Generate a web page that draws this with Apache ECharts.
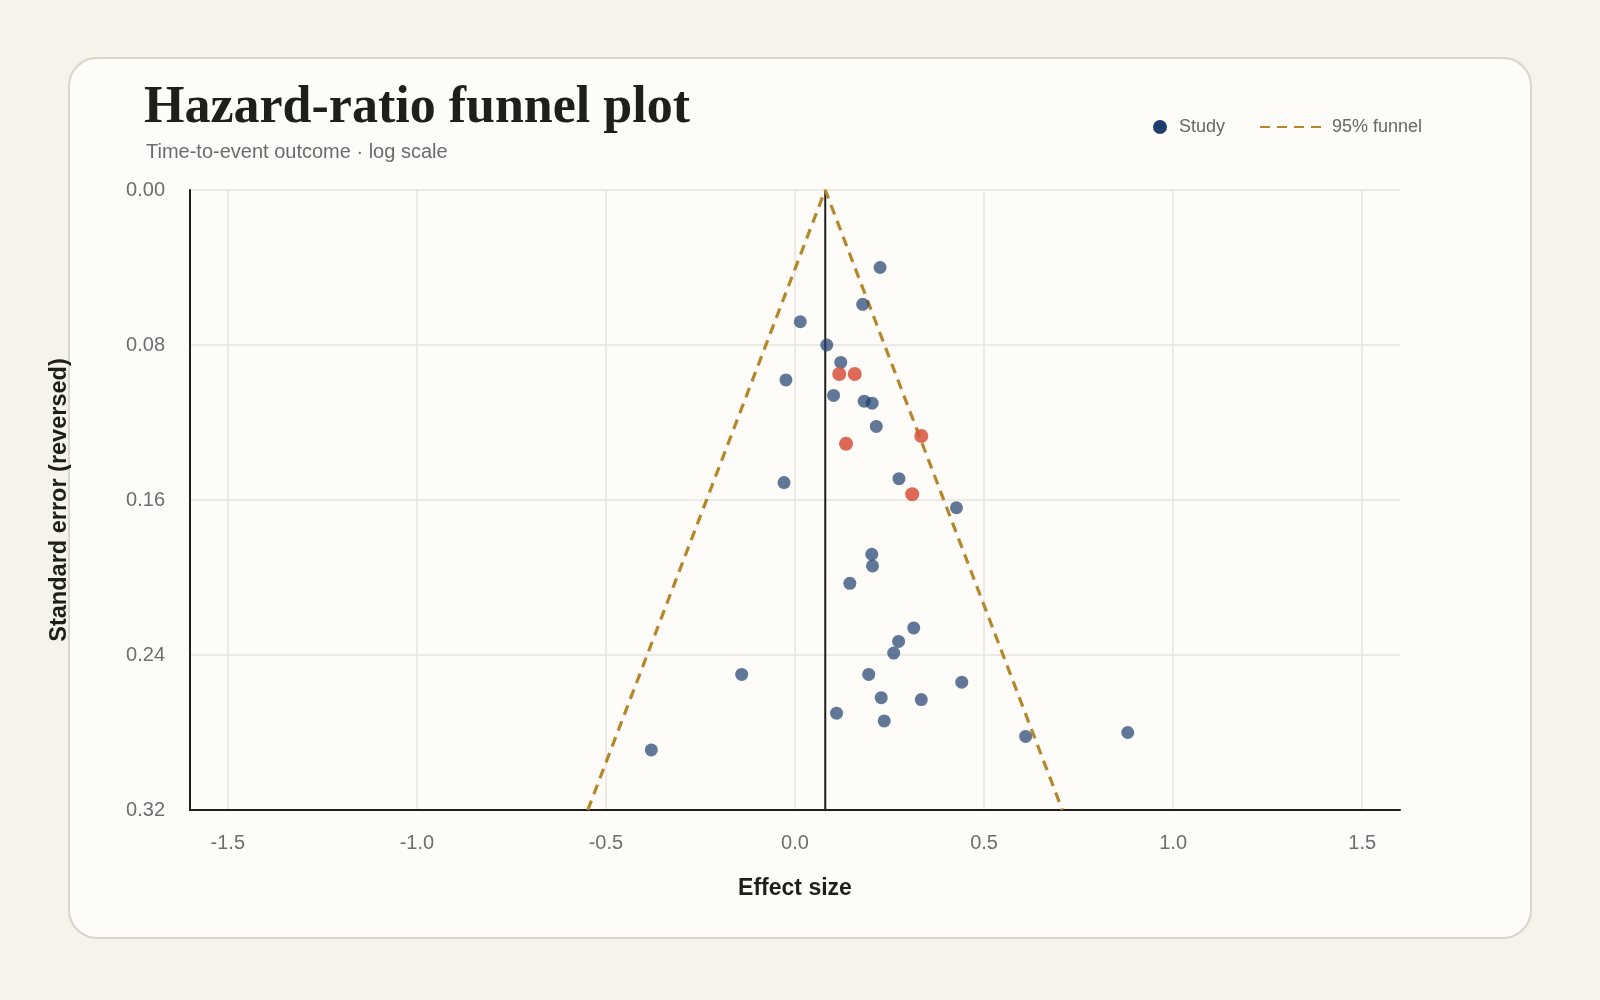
<!DOCTYPE html>
<html>
<head>
<meta charset="utf-8">
<title>Hazard-ratio funnel plot</title>
<script src="https://cdn.jsdelivr.net/npm/echarts@6/dist/echarts.min.js"></script>
<style>
    html, body { margin: 0; padding: 0; background: #f6f3ea; }
    #chart { width: 1600px; height: 1000px; }
</style>
</head>
<body>
<div id="chart"></div>
<script>
// studies: effect size (log HR) and standard error
var studyEffect = [0.225, 0.179, 0.014, 0.084, 0.121, -0.024, 0.117, 0.158, 0.102, 0.183,
    0.204, 0.215, 0.334, 0.135, -0.029, 0.275, 0.310, 0.427, 0.203, 0.205,
    0.145, 0.314, 0.274, 0.261, -0.141, 0.195, 0.441, 0.228, 0.334, 0.110,
    0.236, 0.610, 0.880, -0.380];
var studySE = [0.040, 0.059, 0.068, 0.080, 0.089, 0.098, 0.095, 0.095, 0.106, 0.109,
    0.110, 0.122, 0.127, 0.131, 0.151, 0.149, 0.157, 0.164, 0.188, 0.194,
    0.203, 0.226, 0.233, 0.239, 0.250, 0.250, 0.254, 0.262, 0.263, 0.270,
    0.274, 0.282, 0.280, 0.289];
// highlighted (red) studies
var studyFlag = [0, 0, 0, 0, 0, 0, 1, 1, 0, 0,
    0, 0, 1, 1, 0, 0, 1, 0, 0, 0,
    0, 0, 0, 0, 0, 0, 0, 0, 0, 0,
    0, 0, 0, 0];

// funnel outline (left bottom -> apex -> right bottom) and pooled line
var funnelEffect = [-0.548, 0.08, 0.707];
var funnelSE = [0.32, 0.0, 0.32];
var pooledEffect = [0.08, 0.08];
var pooledSE = [0.0, 0.32];

var sans = '"Liberation Sans", Arial, Helvetica, sans-serif';

var studyData = studyEffect.map(function (x, i) {
    var item = {value: [x, studySE[i]]};
    if (studyFlag[i]) {
        item.itemStyle = {color: '#d8553f', opacity: 0.88};
        item.symbolSize = 14;
    }
    return item;
});

var chart = echarts.init(document.getElementById('chart'));
chart.setOption({
    backgroundColor: '#f6f3ea',
    animation: false,
    graphic: [{
        type: 'rect',
        z: -10,
        shape: {x: 69, y: 58, width: 1462, height: 880, r: 28},
        style: {fill: '#fdfcf9', stroke: '#d9d5c9', lineWidth: 2}
    }],
    title: [{
        text: 'Hazard-ratio funnel plot',
        left: 144, top: 83, padding: 0,
        textStyle: {fontFamily: '"Liberation Serif", "Times New Roman", serif', fontWeight: 'bold', fontSize: 52, color: '#1f1f1a'}
    }, {
        text: 'Time-to-event outcome · log scale',
        left: 146, top: 142, padding: 0,
        textStyle: {fontFamily: sans, fontWeight: 'normal', fontSize: 20, color: '#6b6b6b'}
    }],
    legend: [{
        data: ['Study'],
        left: 1153, top: 118, padding: 0,
        itemWidth: 28, itemHeight: 14,
        itemStyle: {opacity: 1, color: '#1d3f6e'},
        textStyle: {fontFamily: sans, fontSize: 18, color: '#666'}
    }, {
        data: ['95% funnel'],
        left: 1259, top: 118, padding: 0,
        itemWidth: 61, itemHeight: 14,
        textStyle: {fontFamily: sans, fontSize: 18, color: '#666', padding: [0, 0, 0, 6]}
    }],
    grid: {left: 190, right: 200, top: 190, bottom: 190},
    xAxis: {
        type: 'value',
        min: -1.6, max: 1.6,
        name: 'Effect size',
        nameLocation: 'middle',
        nameGap: 67,
        nameTextStyle: {fontFamily: sans, fontWeight: 'bold', fontSize: 23, color: '#1f1f1a'},
        axisLine: {onZero: false, lineStyle: {color: '#1e1e1e', width: 2}},
        axisTick: {show: false},
        axisLabel: {
            showMinLabel: false, showMaxLabel: false,
            margin: 23, fontFamily: sans, fontSize: 20, color: '#6e6e6e',
            formatter: function (v) { return v.toFixed(1); }
        },
        splitLine: {show: true, showMinLine: false, showMaxLine: false, lineStyle: {color: '#e7e4dd', width: 1.5}}
    },
    yAxis: {
        type: 'value',
        inverse: true,
        min: 0, max: 0.32, interval: 0.08,
        name: 'Standard error (reversed)',
        nameLocation: 'middle',
        nameGap: 118,
        nameTextStyle: {fontFamily: sans, fontWeight: 'bold', fontSize: 23.5, color: '#1f1f1a'},
        axisLine: {show: true, onZero: false, lineStyle: {color: '#1e1e1e', width: 2}},
        axisTick: {show: false},
        axisLabel: {
            margin: 25, fontFamily: sans, fontSize: 20, color: '#6e6e6e',
            formatter: function (v) { return v.toFixed(2); }
        },
        splitLine: {show: true, lineStyle: {color: '#e7e4dd', width: 1.5}}
    },
    series: [{
        name: 'Pooled',
        type: 'line',
        data: pooledEffect.map(function (x, i) { return [x, pooledSE[i]]; }),
        symbol: 'none',
        silent: true,
        lineStyle: {color: '#1e1e1e', width: 2},
        z: 3
    }, {
        name: '95% funnel',
        type: 'line',
        data: funnelEffect.map(function (x, i) { return [x, funnelSE[i]]; }),
        symbol: 'none',
        silent: true,
        lineStyle: {color: '#b5862a', width: 3.2, type: [10, 7]},
        itemStyle: {color: 'rgba(0,0,0,0)'},
        z: 4
    }, {
        name: 'Study',
        type: 'scatter',
        data: studyData,
        symbolSize: 13,
        itemStyle: {color: '#1d3f6e', opacity: 0.7},
        z: 5
    }]
});
</script>
</body>
</html>
